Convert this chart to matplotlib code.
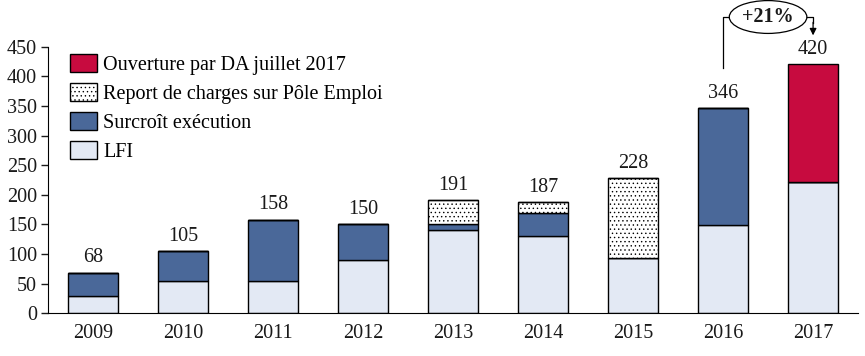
import matplotlib.pyplot as plt
import numpy as np

# data
years = ['2009', '2010', '2011', '2012', '2013', '2014', '2015', '2016', '2017']
lfi = [30, 54, 54, 90, 140, 130, 94, 149, 221]
surcroit = [38, 51, 104, 60, 10, 40, 0, 197, 0]
report = [0, 0, 0, 0, 41, 17, 134, 0, 0]
ouverture = [0, 0, 0, 0, 0, 0, 0, 0, 199]
totals = [68, 105, 158, 150, 191, 187, 228, 346, 420]
growth_label = '+21%'

plt.rcParams['font.family'] = ['Liberation Serif', 'DejaVu Serif']
plt.rcParams['hatch.linewidth'] = 0.5

c_lfi = '#e3e9f4'
c_surcroit = '#4a6899'
c_ouv = '#c70b3f'
txt = '#1a1a1a'
fs = 14.5

fig = plt.figure(figsize=(8.65, 3.56), dpi=100)
ax = fig.add_axes([0.0555, 0.12, 0.9365, 0.749])

x = np.arange(len(years))
w = 0.555
lfi = np.array(lfi)
surcroit = np.array(surcroit)
report = np.array(report)
ouverture = np.array(ouverture)

b1 = ax.bar(x, lfi, w, color=c_lfi, edgecolor='black', linewidth=1, label='LFI')
b2 = ax.bar(x, surcroit, w, bottom=lfi, color=c_surcroit, edgecolor='black',
            linewidth=1, label='Surcroît exécution')
b3 = ax.bar(x, report, w, bottom=lfi + surcroit, color='white', edgecolor='black',
            linewidth=1, hatch='....', label='Report de charges sur Pôle Emploi')
b4 = ax.bar(x, ouverture, w, bottom=lfi + surcroit + report, color=c_ouv,
            edgecolor='black', linewidth=1, label='Ouverture par DA juillet 2017')

for xi, t in zip(x, totals):
    ax.annotate(str(t), (xi, t), xytext=(0, 4), textcoords='offset points',
                ha='center', va='bottom', fontsize=fs, color=txt)

# growth annotation between 2016 and 2017
ax.plot([7, 7, 8, 8], [414, 500, 500, 490], color='black', lw=0.9, clip_on=False)
ax.annotate('', xy=(8, 469), xytext=(8, 491),
            arrowprops=dict(arrowstyle='-|>', color='black', lw=0.9,
                            mutation_scale=10, shrinkA=0, shrinkB=0),
            annotation_clip=False)
ax.text(7.5, 500, growth_label, ha='center', va='center', fontsize=14.5,
        fontweight='bold', color=txt, clip_on=False,
        bbox=dict(boxstyle='ellipse,pad=0.08', fc='white', ec='black', lw=0.9))

ax.set_xlim(-0.5, 8.5)
ax.set_ylim(0, 450)
ax.set_yticks(range(0, 451, 50))
ax.set_xticks(x)
ax.set_xticklabels(years)
ax.tick_params(axis='x', length=0, pad=8, labelsize=fs, colors=txt)
ax.tick_params(axis='y', length=5, width=1, direction='out', labelsize=fs,
               colors=txt, pad=3)
ax.spines['top'].set_visible(False)
ax.spines['right'].set_visible(False)

handles = [b4, b3, b2, b1]
ax.legend(handles=handles, labels=[h.get_label() for h in handles],
          loc='upper left', bbox_to_anchor=(0.027, 0.972), frameon=False,
          fontsize=fs, handlelength=1.35, handleheight=1.0,
          handletextpad=0.3, labelspacing=0.4, borderaxespad=0, borderpad=0)

fig.savefig('out.png', dpi=100)
